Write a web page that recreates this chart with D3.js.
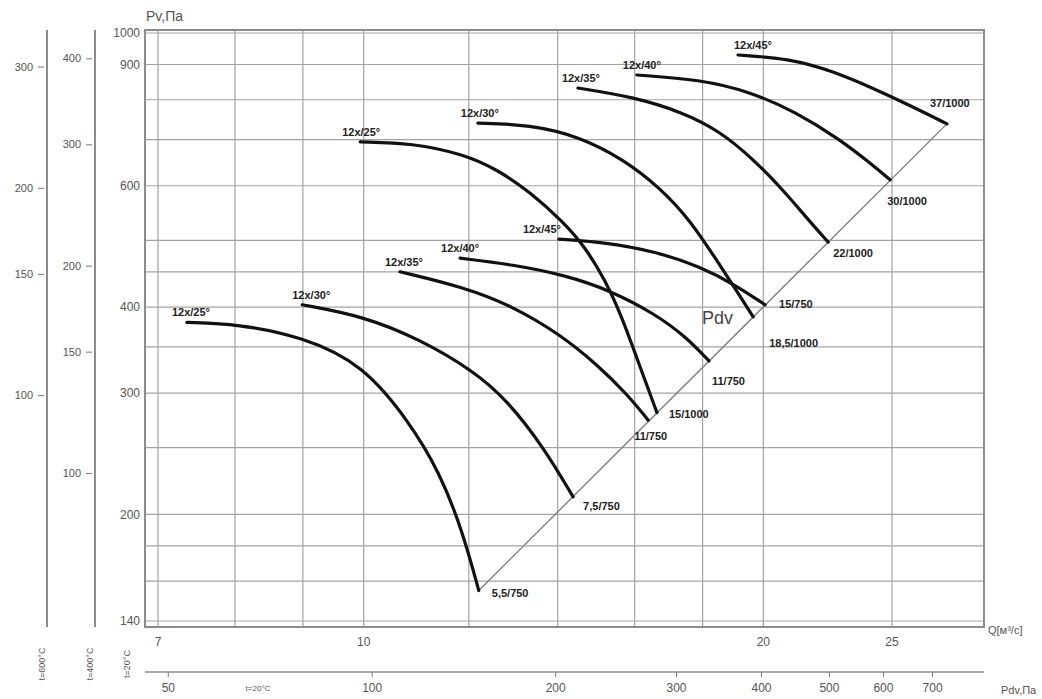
<!DOCTYPE html>
<html>
<head>
<meta charset="utf-8">
<script src="https://cdn.jsdelivr.net/npm/d3@7"></script>
<style>
  body { margin: 0; background: #fff; }
  svg { display: block; font-family: "Liberation Sans", Arial, sans-serif; }
</style>
</head>
<body>
<svg id="chart" width="1042" height="699"></svg>
<script>
// Curve names (blade angle) and motor labels at the end of each curve
const angles = ['12x/25°', '12x/30°', '12x/35°', '12x/40°', '12x/45°'];
const motors750 = ['5,5/750', '7,5/750', '11/750', '11/750', '15/750'];
const motors1000 = ['15/1000', '18,5/1000', '22/1000', '30/1000', '37/1000'];

// [Q m3/s, Pv Pa], 750 rpm set
const curves750 = [
  [[7.36, 380], [8.03, 378], [9.0, 362], [9.99, 330], [10.83, 272], [11.41, 230], [11.86, 190], [12.21, 155]],
  [[8.99, 403], [9.99, 388], [11.03, 359], [12.13, 322], [12.82, 293], [13.65, 251], [14.38, 212]],
  [[10.65, 450], [11.92, 427], [12.95, 401], [14.06, 365], [14.99, 330], [15.79, 299], [16.38, 274]],
  [[11.82, 471], [12.95, 461], [14.18, 445], [15.33, 423], [16.57, 391], [17.49, 362], [18.2, 334]],
  [[14.03, 502], [15.14, 497], [16.57, 482], [17.92, 458], [19.04, 431], [20.06, 403]]
];

// 1000 rpm set
const curves1000 = [
  [[9.94, 695], [10.89, 692], [11.88, 667], [12.6, 634], [13.34, 588], [14.13, 532], [14.68, 489], [15.2, 438], [15.65, 387], [16.09, 334], [16.63, 281]],
  [[12.19, 740], [13.34, 736], [14.55, 707], [15.68, 656], [16.72, 596], [17.61, 535], [18.39, 472], [19.11, 421], [19.65, 387]],
  [[14.5, 832], [15.95, 808], [17.4, 767], [18.55, 720], [19.65, 656], [20.69, 592], [21.54, 540], [22.38, 497]],
  [[16.06, 869], [17.92, 856], [19.54, 822], [21.13, 769], [22.85, 700], [23.98, 651], [24.92, 612]],
  [[19.14, 929], [20.95, 918], [22.57, 880], [24.27, 829], [25.89, 782], [27.5, 738]]
];

// Dynamic pressure line (ends of the curves)
const pdvLine = [[12.21, 155], [27.5, 738]];

// Grid and ticks
const qGrid = [7, 8, 9, 10, 12, 14, 16, 18, 20, 25];
const qTicks = [7, 10, 20, 25];
const pvGrid = [140, 160, 180, 200, 250, 300, 350, 400, 450, 500, 600, 700, 800, 900, 1000];
const pvTicks = [140, 200, 300, 400, 600, 900, 1000];

// Extra pressure scales for hot gas
const auxTemps = [600, 400];
const auxTicks = [[100, 150, 200, 300], [100, 150, 200, 300, 400]];

// Pdv scale: tick values and the Q under each tick
const pdvTicks = [50, 100, 200, 300, 400, 500, 600, 700];
const pdvQ = [7.12, 10.14, 13.94, 17.19, 19.92, 22.41, 24.61, 26.8];

const svg = d3.select('#chart');
const frame = { left: 145, right: 984, top: 30, bottom: 627 };

const x = d3.scaleLog().domain([7, 25]).range([158, 892]);
const y = d3.scaleLog().domain([140, 1000]).range([621, 33]);

const gridColor = '#a3a3a3';
const textColor = '#555';

// grid
svg.append('g').selectAll('line')
  .data(qGrid)
  .enter().append('line')
  .attr('x1', d => x(d)).attr('x2', d => x(d))
  .attr('y1', frame.top).attr('y2', frame.bottom)
  .attr('stroke', gridColor).attr('stroke-width', 1.2);

svg.append('g').selectAll('line')
  .data(pvGrid)
  .enter().append('line')
  .attr('x1', frame.left).attr('x2', frame.right)
  .attr('y1', d => y(d)).attr('y2', d => y(d))
  .attr('stroke', gridColor).attr('stroke-width', 1.2);

// frame
svg.append('rect')
  .attr('x', frame.left).attr('y', frame.top)
  .attr('width', frame.right - frame.left)
  .attr('height', frame.bottom - frame.top)
  .attr('fill', 'none')
  .attr('stroke', '#8c8c8c')
  .attr('stroke-width', 2);

// main y labels
svg.append('g').selectAll('text')
  .data(pvTicks)
  .enter().append('text')
  .attr('x', frame.left - 5)
  .attr('y', d => y(d))
  .attr('dy', '0.35em')
  .attr('text-anchor', 'end')
  .style('font-size', '12px')
  .style('fill', textColor)
  .text(d => d);

// x labels
svg.append('g').selectAll('text')
  .data(qTicks)
  .enter().append('text')
  .attr('x', d => x(d))
  .attr('y', frame.bottom + 19)
  .attr('text-anchor', 'middle')
  .style('font-size', '12px')
  .style('fill', textColor)
  .text(d => d);

svg.append('text')
  .attr('x', frame.left + 1).attr('y', 21)
  .style('font-size', '14px').style('fill', textColor)
  .text('Pv,Па');

svg.append('text')
  .attr('x', frame.right + 4).attr('y', frame.bottom + 7)
  .style('font-size', '11px').style('fill', textColor)
  .text('Q[м³/с]');

// auxiliary pressure axes (t=600°C, t=400°C)
const auxX = [47, 95];
auxTemps.forEach((t, i) => {
  const k = 293 / (273 + t);
  const ya = d3.scaleLog().domain(y.domain().map(v => v * k)).range(y.range());
  const g = svg.append('g').attr('transform', `translate(${auxX[i] - 3},0)`);
  g.call(d3.axisLeft(ya).tickValues(auxTicks[i]).tickSize(6).tickPadding(5).tickFormat(d3.format('d')));
  g.select('.domain').remove();
  g.selectAll('line').attr('stroke', '#777');
  g.selectAll('text').style('font-size', '11px').style('fill', textColor)
    .style('font-family', '"Liberation Sans", Arial, sans-serif');
  svg.append('line')
    .attr('x1', auxX[i]).attr('x2', auxX[i])
    .attr('y1', frame.top).attr('y2', frame.bottom)
    .attr('stroke', '#8c8c8c').attr('stroke-width', 2);
});

// temperature captions
const tempLabels = ['t=600°C', 't=400°C', 't=20°C'];
const tempX = [45, 93, 130];
tempLabels.forEach((s, i) => {
  svg.append('text')
    .attr('transform', `translate(${tempX[i]},664) rotate(-90)`)
    .attr('text-anchor', 'middle')
    .style('font-size', '9px').style('fill', textColor)
    .text(s);
});

// Pdv axis
const pdvScale = d3.scaleLog().domain(pdvTicks).range(pdvQ.map(q => x(q)));
const pdvY = 672;
svg.append('line')
  .attr('x1', frame.left).attr('x2', frame.right)
  .attr('y1', pdvY).attr('y2', pdvY)
  .attr('stroke', '#8c8c8c').attr('stroke-width', 1.5);
const pg = svg.append('g').attr('transform', `translate(0,${pdvY})`);
pg.call(d3.axisBottom(pdvScale).tickValues(pdvTicks).tickSize(5).tickPadding(6).tickFormat(d3.format('d')));
pg.select('.domain').remove();
pg.selectAll('line').attr('stroke', '#777');
pg.selectAll('text').style('font-size', '12px').style('fill', textColor)
  .style('font-family', '"Liberation Sans", Arial, sans-serif');

svg.append('text')
  .attr('x', frame.right + 17).attr('y', pdvY + 22)
  .style('font-size', '11px').style('fill', textColor)
  .text('Pdv,Па');
svg.append('text')
  .attr('x', 258).attr('y', pdvY + 19)
  .attr('text-anchor', 'middle')
  .style('font-size', '8px').style('fill', textColor)
  .text('t=20°C');

// Pdv diagonal
const line = d3.line()
  .x(d => x(d[0]))
  .y(d => y(d[1]));

svg.append('path')
  .datum(pdvLine)
  .attr('d', line)
  .attr('fill', 'none')
  .attr('stroke', '#7a7a7a')
  .attr('stroke-width', 1.3);

svg.append('text')
  .attr('x', 702).attr('y', 324)
  .style('font-size', '18px').style('fill', '#444')
  .text('Pdv');

// fan curves, smoothed through the read points
const curveLine = d3.line()
  .x(d => x(d[0]))
  .y(d => y(d[1]))
  .curve(d3.curveBasis);

// label offsets in pixels: [start label dx, end label dx, end label dy]
const offs750 = [[4, 13, 6], [9, 10, 13], [4, -14, 20], [0, 3, 24], [-17, 14, 3]];
const offs1000 = [[1, 12, 5], [2, 16, 30], [3, 5, 15], [5, -3, 25], [15, -17, -17]];

function drawSet(curves, motors, offs) {
  curves.forEach((pts, i) => {
    svg.append('path')
      .datum(pts)
      .attr('d', curveLine)
      .attr('fill', 'none')
      .attr('stroke', '#111')
      .attr('stroke-width', 3.2)
      .attr('stroke-linecap', 'round');

    const s = pts[0];
    const e = pts[pts.length - 1];
    svg.append('text')
      .attr('x', x(s[0]) + offs[i][0])
      .attr('y', y(s[1]) - 6)
      .attr('text-anchor', 'middle')
      .style('font-size', '11px').style('font-weight', 'bold').style('fill', '#222')
      .text(angles[i]);

    svg.append('text')
      .attr('x', x(e[0]) + offs[i][1])
      .attr('y', y(e[1]) + offs[i][2])
      .style('font-size', '11px').style('font-weight', 'bold').style('fill', '#222')
      .text(motors[i]);
  });
}

drawSet(curves750, motors750, offs750);
drawSet(curves1000, motors1000, offs1000);
</script>
</body>
</html>
